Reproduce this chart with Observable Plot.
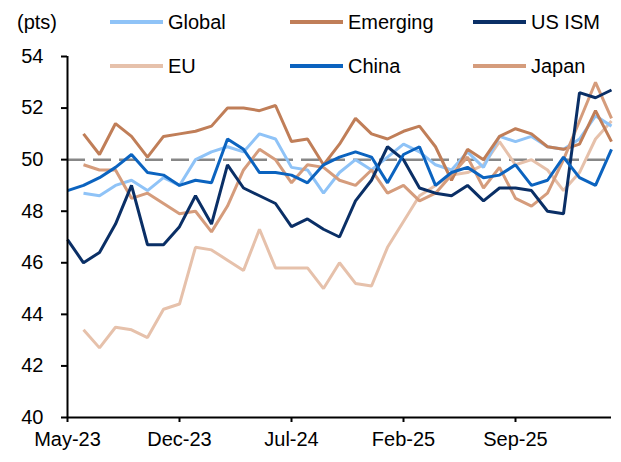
<!DOCTYPE html>
<html>
<head>
<meta charset="utf-8">
<script src="https://cdn.jsdelivr.net/npm/d3@7"></script>
<script src="https://cdn.jsdelivr.net/npm/@observablehq/plot@0.6"></script>
<style>
  body { margin: 0; background: #fff; }
  #wrap { position: relative; width: 621px; height: 462px; font-family: "Liberation Sans", Arial, sans-serif; color: #000; }
  #wrap svg { position: absolute; left: 0; top: 0; }
  .lab { position: absolute; font-size: 20px; line-height: 20px; white-space: nowrap; }
  .leg { position: absolute; height: 20px; display: flex; align-items: center; font-size: 20px; white-space: nowrap; }
  .sw { display: inline-block; width: 53px; height: 4px; margin-right: 5px; }
</style>
</head>
<body>
<div id="wrap"></div>
<script>
const months = ["May-23","Jun-23","Jul-23","Aug-23","Sep-23","Oct-23","Nov-23","Dec-23",
  "Jan-24","Feb-24","Mar-24","Apr-24","May-24","Jun-24","Jul-24","Aug-24","Sep-24","Oct-24","Nov-24","Dec-24",
  "Jan-25","Feb-25","Mar-25","Apr-25","May-25","Jun-25","Jul-25","Aug-25","Sep-25","Oct-25","Nov-25","Dec-25",
  "Jan-26","Feb-26","Mar-26"];
const xTicks = ["May-23","Dec-23","Jul-24","Feb-25","Sep-25"];
const yTicks = [40,42,44,46,48,50,52,54];

const globalPMI = [null,48.7,48.6,49.0,49.2,48.8,49.3,49.0,50.0,50.3,50.5,50.3,51.0,50.8,49.7,49.6,48.7,49.5,50.0,49.6,50.1,50.6,50.3,49.8,49.6,50.3,49.7,50.9,50.7,50.9,50.5,50.4,50.8,51.7,51.3];
const emerging  = [null,51.0,50.2,51.4,50.9,50.1,50.9,51.0,51.1,51.3,52.0,52.0,51.9,52.1,50.7,50.8,49.8,50.6,51.6,51.0,50.8,51.1,51.3,50.5,49.2,50.4,50.0,50.9,51.2,51.0,50.5,50.4,50.6,51.9,50.7];
const usISM     = [46.9,46.0,46.4,47.5,49.0,46.7,46.7,47.4,48.6,47.5,49.8,48.9,48.6,48.3,47.4,47.7,47.3,47.0,48.4,49.2,50.5,50.0,48.9,48.7,48.6,49.0,48.4,48.9,48.9,48.8,48.0,47.9,52.6,52.4,52.7];
const eu        = [null,43.4,42.7,43.5,43.4,43.1,44.2,44.4,46.6,46.5,46.1,45.7,47.3,45.8,45.8,45.8,45.0,46.0,45.2,45.1,46.6,47.6,48.6,49.0,49.4,49.5,49.8,50.7,49.8,50.0,49.6,48.8,49.5,50.8,51.5];
const china     = [48.8,49.0,49.3,49.7,50.2,49.5,49.4,49.0,49.2,49.1,50.8,50.4,49.5,49.5,49.4,49.1,49.8,50.1,50.3,50.1,49.1,50.2,50.5,49.0,49.5,49.7,49.3,49.4,49.8,49.0,49.2,50.1,49.3,49.0,50.4];
const japan     = [null,49.8,49.6,49.6,48.5,48.7,48.3,47.9,48.0,47.2,48.2,49.6,50.4,50.0,49.1,49.8,49.7,49.2,49.0,49.6,48.7,49.0,48.4,48.7,49.4,50.1,48.9,49.7,48.5,48.2,48.7,50.0,51.5,53.0,51.6];

const seriesNames = ["Global","Emerging","US ISM","EU","China","Japan"];
const seriesValues = [globalPMI, emerging, usISM, eu, china, japan];
const seriesColors = ["#8fc3f7","#c07e58","#0a2f66","#e6c1ab","#0b63bf","#d59c7c"];

const series = seriesNames.map((name, k) => ({
  name, color: seriesColors[k],
  rows: months.map((m, i) => ({month: m, value: seriesValues[k][i]}))
}));

const drawOrder = ["EU","Global","Emerging","Japan","US ISM","China"];

const chart = Plot.plot({
  width: 621,
  height: 462,
  marginLeft: 67,
  marginRight: 10,
  marginTop: 56,
  marginBottom: 45,
  style: {fontFamily: "'Liberation Sans', Arial, sans-serif", fontSize: "20px", color: "#000", background: "transparent"},
  x: {type: "point", domain: months, padding: 0},
  y: {domain: [40, 54]},
  marks: [
    Plot.ruleY([50], {stroke: "#878787", strokeWidth: 2.5, strokeDasharray: "18,8"}),
    ...drawOrder.map(n => {
      const s = series.find(d => d.name === n);
      return Plot.line(s.rows, {x: "month", y: "value", stroke: s.color, strokeWidth: 3, strokeLinejoin: "miter", strokeLinecap: "butt"});
    }),
    Plot.ruleY([40], {stroke: "#000", strokeWidth: 2}),
    Plot.ruleX([months[0]], {y1: 40, y2: 54, stroke: "#000", strokeWidth: 2}),
    Plot.axisX({ticks: xTicks, tickSize: 5, tickPadding: 9, fontSize: 20, strokeWidth: 2, label: null}),
    Plot.axisY({ticks: yTicks, tickSize: 6, tickPadding: 18, fontSize: 20, strokeWidth: 2, label: null})
  ]
});

const wrap = document.getElementById("wrap");
wrap.appendChild(chart);

const pts = document.createElement("div");
pts.className = "lab";
pts.style.left = "17px";
pts.style.top = "12px";
pts.textContent = "(pts)";
wrap.appendChild(pts);

const legPos = [
  {left: 110, top: 12}, {left: 290, top: 12}, {left: 473, top: 12},
  {left: 110, top: 56}, {left: 290, top: 56}, {left: 473, top: 56}
];
series.forEach((s, k) => {
  const d = document.createElement("div");
  d.className = "leg";
  d.style.left = legPos[k].left + "px";
  d.style.top = legPos[k].top + "px";
  const sw = document.createElement("span");
  sw.className = "sw";
  sw.style.background = s.color;
  d.appendChild(sw);
  d.appendChild(document.createTextNode(s.name));
  wrap.appendChild(d);
});
</script>
</body>
</html>
